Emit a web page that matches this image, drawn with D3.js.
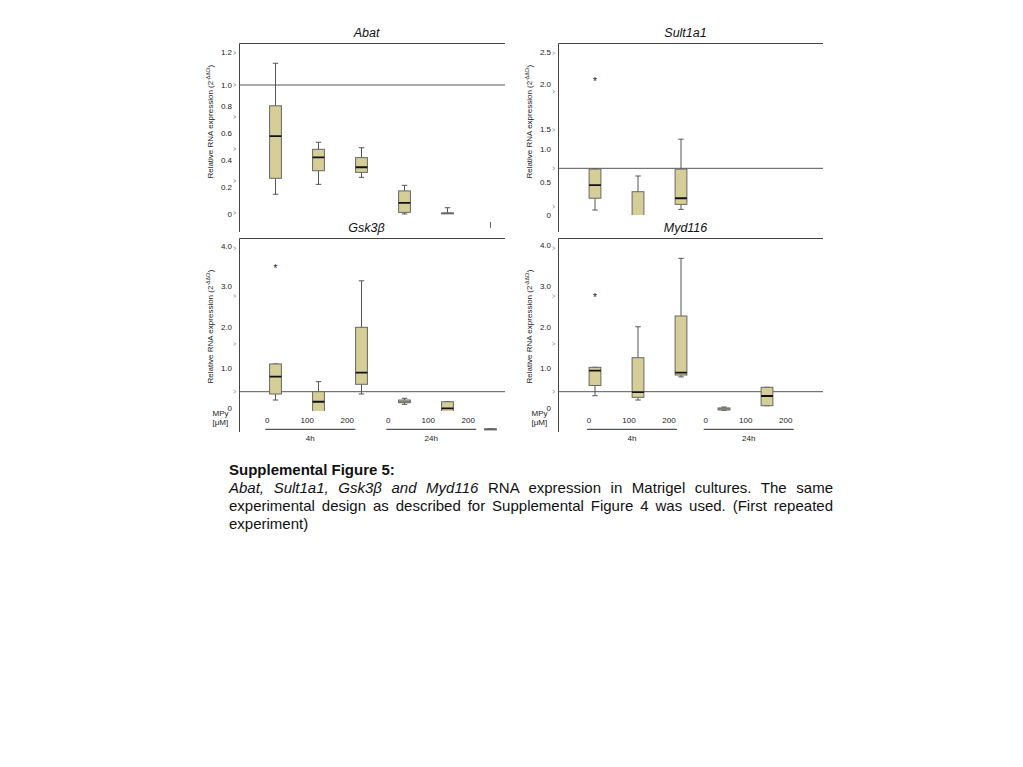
<!DOCTYPE html>
<html>
<head>
<meta charset="utf-8">
<script src="https://cdn.jsdelivr.net/npm/d3@7/dist/d3.min.js"></script>
<style>
  body { margin: 0; background: #fff; }
  #wrap { position: relative; width: 1023px; height: 767px; }
  #caption {
    position: absolute; left: 229px; top: 461px; width: 604px;
    font: 15px "Liberation Sans", Arial, sans-serif; line-height: 18px;
    text-align: justify; color: #111;
  }
  #caption b { font-weight: bold; }
</style>
</head>
<body>
<div id="wrap">
  <svg id="chart" width="1023" height="767"></svg>
  <div id="caption">
    <b>Supplemental Figure 5:</b><br>
    <i>Abat, Sult1a1, Gsk3β and Myd116</i> RNA expression in Matrigel cultures. The same
    experimental design as described for Supplemental Figure 4 was used. (First repeated experiment)
  </div>
</div>
<script>
// groups along the x axis: 3 doses x 2 time points
const doses = ["0", "100", "200", "0", "100", "200"];
const timePoints = ["4h", "24h"];

// box stats per group: [lower whisker, q1, median, q3, upper whisker], null = not visible
const abatStats = [
  [0.317, 0.417, 0.681, 0.870, 1.136],
  [0.379, 0.464, 0.548, 0.598, 0.642],
  [0.423, 0.454, 0.486, 0.546, 0.608],
  [0.194, 0.204, 0.263, 0.338, 0.373],
  [0.198, 0.196, 0.198, 0.201, 0.233],
  [0.106, null, null, null, 0.144]
];
const sultStats = [
  [0.456, 0.610, 0.780, 0.990, 0.990],
  [0.100, 0.200, 0.320, 0.695, 0.900],
  [0.465, 0.530, 0.610, 0.990, 1.380],
  null, null, null
];
const gskStats = [
  [0.826, 0.952, 1.314, 1.580, 1.580],
  [0.400, 0.500, 0.790, 1.000, 1.210],
  [0.952, 1.155, 1.397, 2.347, 3.320],
  [0.736, 0.770, 0.790, 0.826, 0.862],
  [0.500, 0.550, 0.653, 0.790, 0.790],
  [0.218, 0.218, 0.220, 0.222, 0.222]
];
const mydStats = [
  [0.916, 1.130, 1.440, 1.510, 1.510],
  [0.826, 0.882, 0.993, 1.711, 2.358],
  [1.310, 1.349, 1.397, 2.584, 3.790],
  [0.600, 0.617, 0.640, 0.660, 0.680],
  [0.707, 0.707, 0.910, 1.092, 1.092],
  null
];

// outliers: [group index, value]
const abatOutliers = [];
const sultOutliers = [[0, 2.17]];
const gskOutliers = [[0, 3.63]];
const mydOutliers = [[0, 3.03]];

// y tick labels
const abatTicks = [0, 0.2, 0.4, 0.6, 0.8, 1.0, 1.2];
const sultTicks = [0, 0.5, 1.0, 1.5, 2.0, 2.5];
const fourTicks = [0, 1, 2, 3, 4];

const svg = d3.select("#chart");
const font = '"Liberation Sans", Arial, sans-serif';
const boxFill = "#d5ce97";

const panels = [
  { title: "Abat", stats: abatStats, outliers: abatOutliers, ticks: abatTicks, fmt: d => d === 0 ? "0" : d.toFixed(1),
    ax: 239.5, right: 505, top: 43.5, bottom: 215, stripX: 480, stripBottom: 232, axisEnd: 232,
    yDomain: [0, 1.2], yRange: [245, 53], markTicks: [0.2, 0.4, 0.6, 0.8, 1.0, 1.2],
    labelRange: [214, 186.7, 160, 133, 105.7, 85, 51.7], x0: 275.5, titleY: 33, yTitleY: 121.7, xLabels: false },
  { title: "Sult1a1", stats: sultStats, outliers: sultOutliers, ticks: sultTicks, fmt: d => d === 0 ? "0" : d.toFixed(1),
    ax: 558.5, right: 823, top: 43.5, bottom: 215, stripX: 798, stripBottom: 232, axisEnd: 232,
    yDomain: [0, 2.5], yRange: [245, 53.3], markTicks: [0.5, 1.0, 1.5, 2.0, 2.5],
    labelRange: [215, 181.7, 149.3, 129.3, 84.3, 51.7], x0: 595, titleY: 33, yTitleY: 121.7, xLabels: false },
  { title: "Gsk3β", stats: gskStats, outliers: gskOutliers, ticks: fourTicks, fmt: d => d === 0 ? "0" : d.toFixed(1),
    ax: 239.5, right: 505, top: 238.5, bottom: 411, stripX: 480, stripBottom: 440, axisEnd: 432,
    yDomain: [0, 4], yRange: [439.5, 248.3], markTicks: [1, 2, 3, 4],
    labelRange: [408.3, 367.7, 327.3, 285.7, 246], x0: 275.5, titleY: 227.5, yTitleY: 326.5,
    xLabels: true, groupStarts: [267.3, 388.3] },
  { title: "Myd116", stats: mydStats, outliers: mydOutliers, ticks: fourTicks, fmt: d => d === 0 ? "0" : d.toFixed(1),
    ax: 558.5, right: 823, top: 238.5, bottom: 411, stripX: 798, stripBottom: 440, axisEnd: 432,
    yDomain: [0, 4], yRange: [439.5, 248.3], markTicks: [1, 2, 3, 4],
    labelRange: [408.3, 367.7, 327.3, 285.7, 245.5], x0: 595, titleY: 227.5, yTitleY: 326.5,
    xLabels: true, groupStarts: [589, 705.7] }
];

panels.forEach((p, pi) => {
  const g = svg.append("g");
  const y = d3.scaleLinear().domain(p.yDomain).range(p.yRange);
  const x = d3.scaleLinear().domain([0, 5]).range([p.x0, p.x0 + 215]);
  const labelY = d3.scaleLinear().domain(p.ticks).range(p.labelRange);
  const bw = 11.8, cap = 5.5;

  // clip: plot area plus the strip on the right that shows below it
  const clipId = "clip" + pi;
  const cp = svg.append("clipPath").attr("id", clipId);
  cp.append("rect").attr("x", p.ax).attr("y", p.top).attr("width", p.right - p.ax).attr("height", p.bottom - p.top);
  cp.append("rect").attr("x", p.stripX).attr("y", p.top).attr("width", p.right - p.stripX).attr("height", p.stripBottom - p.top);

  // title
  g.append("text").attr("x", p.ax + 127).attr("y", p.titleY).attr("dy", "0.35em")
    .attr("text-anchor", "middle").attr("font-family", font).attr("font-size", 12.5)
    .attr("font-style", "italic").attr("fill", "#111").text(p.title);

  // frame lines
  g.append("line").attr("x1", p.ax).attr("x2", p.right).attr("y1", p.top).attr("y2", p.top)
    .attr("stroke", "#444").attr("stroke-width", 1);
  g.append("line").attr("x1", p.ax).attr("x2", p.ax).attr("y1", p.top).attr("y2", p.axisEnd)
    .attr("stroke", "#444").attr("stroke-width", 1);

  // tick marks
  g.selectAll(".tm").data(p.markTicks).join("path")
    .attr("d", d => `M${p.ax - 6},${y(d) - 1.5}L${p.ax - 3.5},${y(d)}L${p.ax - 6},${y(d) + 1.5}`)
    .attr("fill", "none").attr("stroke", "#999").attr("stroke-width", 0.8);

  // tick labels
  g.selectAll(".tl").data(p.ticks).join("text")
    .attr("x", p.ax - 7.5).attr("y", d => labelY(d)).attr("dy", "0.35em")
    .attr("text-anchor", "end").attr("font-family", font).attr("font-size", 8).attr("fill", "#222")
    .text(p.fmt);

  // y axis title
  const yt = g.append("text")
    .attr("transform", `translate(${p.ax - 27},${p.yTitleY}) rotate(-90)`)
    .attr("text-anchor", "middle").attr("font-family", font).attr("font-size", 8).attr("fill", "#222");
  yt.append("tspan").text("Relative RNA expression (2");
  yt.append("tspan").attr("font-size", 5).attr("dy", -3).text("-ΔΔCt");
  yt.append("tspan").attr("dy", 3).text(")");

  // reference line at 1.0
  g.append("line").attr("x1", p.ax).attr("x2", p.right).attr("y1", y(1)).attr("y2", y(1))
    .attr("stroke", "#555").attr("stroke-width", 1);

  // boxes
  const data = g.append("g").attr("clip-path", `url(#${clipId})`);
  p.stats.forEach((s, i) => {
    if (!s) return;
    const cx = x(i);
    const [lo, q1, md, q3, hi] = s;
    if (q1 == null) {
      // only a bare whisker is visible
      data.append("line").attr("x1", cx).attr("x2", cx).attr("y1", y(hi)).attr("y2", y(lo))
        .attr("stroke", "#666").attr("stroke-width", 1);
      return;
    }
    data.append("line").attr("x1", cx).attr("x2", cx).attr("y1", y(hi)).attr("y2", y(q3))
      .attr("stroke", "#555").attr("stroke-width", 1);
    data.append("line").attr("x1", cx).attr("x2", cx).attr("y1", y(q1)).attr("y2", y(lo))
      .attr("stroke", "#555").attr("stroke-width", 1);
    data.append("line").attr("x1", cx - cap / 2).attr("x2", cx + cap / 2).attr("y1", y(hi)).attr("y2", y(hi))
      .attr("stroke", "#555").attr("stroke-width", 1);
    data.append("line").attr("x1", cx - cap / 2).attr("x2", cx + cap / 2).attr("y1", y(lo)).attr("y2", y(lo))
      .attr("stroke", "#555").attr("stroke-width", 1);
    const h = y(q1) - y(q3);
    data.append("rect").attr("x", cx - bw / 2).attr("width", bw)
      .attr("y", y(q3)).attr("height", Math.max(1, h))
      .attr("fill", boxFill).attr("stroke", "#666").attr("stroke-width", 1);
    data.append("line").attr("x1", cx - bw / 2).attr("x2", cx + bw / 2).attr("y1", y(md)).attr("y2", y(md))
      .attr("stroke", h < 3 ? "#666" : "#111").attr("stroke-width", h < 3 ? 1 : 1.8);
  });

  // outliers
  data.selectAll(".out").data(p.outliers).join("text")
    .attr("x", d => x(d[0])).attr("y", d => y(d[1])).attr("dy", "0.62em")
    .attr("text-anchor", "middle").attr("font-family", font).attr("font-size", 10).attr("fill", "#111")
    .text("*");

  // x labels for bottom panels
  if (p.xLabels) {
    const labX = (i) => p.groupStarts[Math.floor(i / 3)] + 40 * (i % 3);
    g.selectAll(".xl").data(doses).join("text")
      .attr("x", (d, i) => labX(i)).attr("y", 420).attr("dy", "0.35em")
      .attr("text-anchor", "middle").attr("font-family", font).attr("font-size", 8).attr("fill", "#222")
      .text(d => d);
    g.append("text").attr("x", p.ax - 27).attr("y", 413.3).attr("dy", "0.35em")
      .attr("font-family", font).attr("font-size", 8).attr("fill", "#222").text("MPy");
    g.append("text").attr("x", p.ax - 27).attr("y", 422.5).attr("dy", "0.35em")
      .attr("font-family", font).attr("font-size", 8).attr("fill", "#222").text("[μM]");
    timePoints.forEach((t, k) => {
      const x1 = labX(k * 3) - 2, x2 = labX(k * 3 + 2) + 8;
      g.append("line").attr("x1", x1).attr("x2", x2).attr("y1", 429.3).attr("y2", 429.3)
        .attr("stroke", "#555").attr("stroke-width", 1.3);
      g.append("text").attr("x", (x1 + x2) / 2).attr("y", 438.5).attr("dy", "0.35em")
        .attr("text-anchor", "middle").attr("font-family", font).attr("font-size", 8).attr("fill", "#222")
        .text(t);
    });
  }
});
</script>
</body>
</html>
